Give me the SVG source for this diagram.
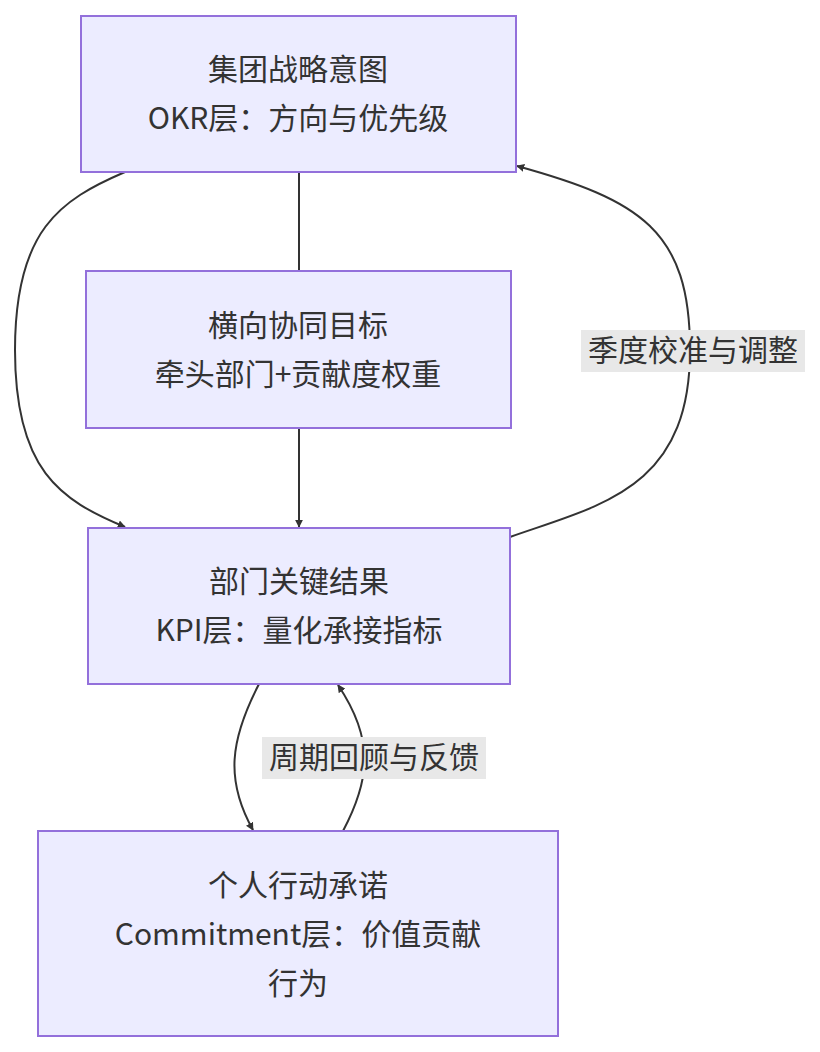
<svg xmlns="http://www.w3.org/2000/svg" width="820" height="1052" viewBox="0 0 820 1052">
<defs>
<style>
.n{fill:#ECECFF;stroke:#9370DB;stroke-width:2}
.t{font-family:"Noto Sans CJK SC","Noto Sans",sans-serif;font-size:30px;fill:#333;text-anchor:middle}
.e{fill:none;stroke:#333;stroke-width:2}
.lb{fill:#e8e8e8}
</style>
<marker id="a" viewBox="0 0 10 10" refX="9" refY="5" markerWidth="8" markerHeight="8" orient="auto-start-reverse" markerUnits="userSpaceOnUse" ><path d="M0,0L10,5L0,10z" fill="#333"/></marker>
</defs>
<rect width="820" height="1052" fill="#fff"/>
<g id="edges">
<path class="e" d="M125,172 C60,200 15,230 15,350 C15,470 60,500 125,527" marker-end="url(#a)"/>
<path class="e" d="M299,172 L299,271"/>
<path class="e" d="M299,428 L299,527" marker-end="url(#a)"/>
<path class="e" d="M510,537 C600,505 690,490 690,350 C690,230 640,200 517,166" marker-end="url(#a)"/>
<path class="e" d="M259,684 C230,740 225,780 253,830" marker-end="url(#a)"/>
<path class="e" d="M343,831 C370,780 375,740 338,685" marker-end="url(#a)"/>
<rect class="lb" x="581" y="330" width="224" height="42"/>
<text class="t" x="693" y="361">季度校准与调整</text>
<rect class="lb" x="262" y="737" width="224" height="42"/>
<text class="t" x="374" y="768">周期回顾与反馈</text>
</g>
<g id="n1"><rect class="n" x="81" y="16" width="435" height="156"/>
<text class="t" x="298" y="80">集团战略意图</text><text class="t" x="298" y="129">OKR层：方向与优先级</text></g>
<g id="n2"><rect class="n" x="86" y="271" width="425" height="157"/>
<text class="t" x="298" y="336">横向协同目标</text><text class="t" x="298" y="385">牵头部门+贡献度权重</text></g>
<g id="n3"><rect class="n" x="88" y="528" width="422" height="156"/>
<text class="t" x="299" y="592">部门关键结果</text><text class="t" x="299" y="641">KPI层：量化承接指标</text></g>
<g id="n4"><rect class="n" x="38" y="831" width="520" height="205"/>
<text class="t" x="298" y="896">个人行动承诺</text><text class="t" x="298" y="945">Commitment层：价值贡献</text><text class="t" x="298" y="994">行为</text></g>
</svg>
